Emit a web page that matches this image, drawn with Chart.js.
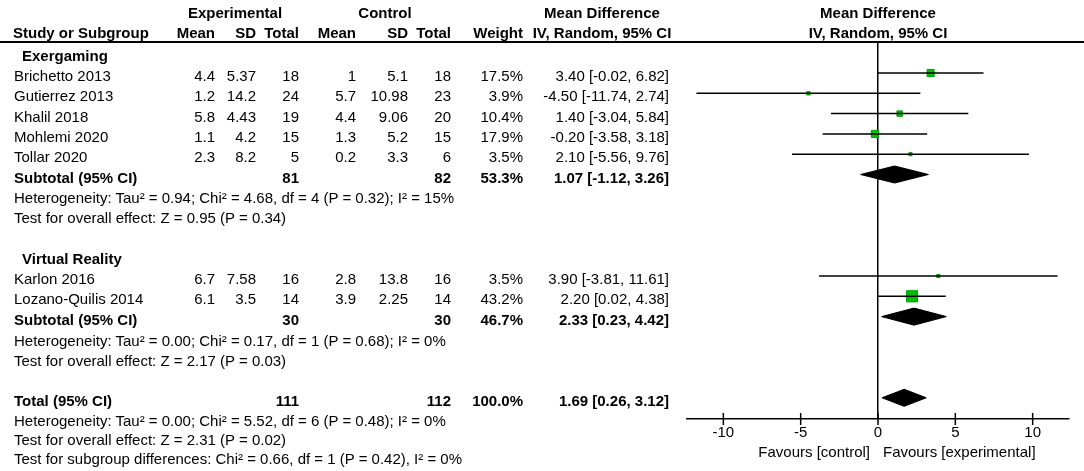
<!DOCTYPE html>
<html>
<head>
<meta charset="utf-8">
<script src="https://cdn.jsdelivr.net/npm/chart.js@4.4.1/dist/chart.umd.min.js"></script>
<style>
  html, body { margin: 0; padding: 0; background: #fff; }
  #wrap { position: relative; width: 1084px; height: 471px; overflow: hidden;
          font-family: "Liberation Sans", Arial, sans-serif; font-size: 15px; color: #000; }
  #wrap canvas { position: absolute; left: 0; top: 0; }
  .t { position: absolute; white-space: nowrap; line-height: 16px; }
  .b { font-weight: bold; }
  .rule { position: absolute; left: 0; top: 41px; width: 1084px; border-top: 2px solid #000; }
</style>
</head>
<body>
<div id="wrap">
  <canvas id="forest" width="1084" height="471"></canvas>
  <div class="rule"></div>
</div>
<script>
// study rows
const studies = ["Brichetto 2013", "Gutierrez 2013", "Khalil 2018", "Mohlemi 2020", "Tollar 2020", "Karlon 2016", "Lozano-Quilis 2014"];
const expMean = [4.4, 1.2, 5.8, 1.1, 2.3, 6.7, 6.1];
const expSD = [5.37, 14.2, 4.43, 4.2, 8.2, 7.58, 3.5];
const expN = [18, 24, 19, 15, 5, 16, 14];
const ctlMean = [1, 5.7, 4.4, 1.3, 0.2, 2.8, 3.9];
const ctlSD = [5.1, 10.98, 9.06, 5.2, 3.3, 13.8, 2.25];
const ctlN = [18, 23, 20, 15, 6, 16, 14];
const weights = [17.5, 3.9, 10.4, 17.9, 3.5, 3.5, 43.2];
const md = [3.40, -4.50, 1.40, -0.20, 2.10, 3.90, 2.20];
const mdLo = [-0.02, -11.74, -3.04, -3.58, -5.56, -3.81, 0.02];
const mdHi = [6.82, 2.74, 5.84, 3.18, 9.76, 11.61, 4.38];

// subgroups and total
const groups = ["Exergaming", "Virtual Reality"];
const pooledLabels = ["Subtotal (95% CI)", "Subtotal (95% CI)", "Total (95% CI)"];
const pooledExpN = [81, 30, 111];
const pooledCtlN = [82, 30, 112];
const pooledWeight = [53.3, 46.7, 100.0];
const pooledMD = [1.07, 2.33, 1.69];
const pooledLo = [-1.12, 0.23, 0.26];
const pooledHi = [3.26, 4.42, 3.12];
const groupNotes = [
  ["Heterogeneity: Tau\u00b2 = 0.94; Chi\u00b2 = 4.68, df = 4 (P = 0.32); I\u00b2 = 15%",
   "Test for overall effect: Z = 0.95 (P = 0.34)"],
  ["Heterogeneity: Tau\u00b2 = 0.00; Chi\u00b2 = 0.17, df = 1 (P = 0.68); I\u00b2 = 0%",
   "Test for overall effect: Z = 2.17 (P = 0.03)"],
  ["Heterogeneity: Tau\u00b2 = 0.00; Chi\u00b2 = 5.52, df = 6 (P = 0.48); I\u00b2 = 0%",
   "Test for overall effect: Z = 2.31 (P = 0.02)",
   "Test for subgroup differences: Chi\u00b2 = 0.66, df = 1 (P = 0.42), I\u00b2 = 0%"]
];

const xTicks = [-10, -5, 0, 5, 10];

// layout: which row each line sits on
const studyRow = [1, 2, 3, 4, 5, 11, 12];
const groupRow = [0, 10];
const pooledRow = [6, 13, 17];
const noteY = [[198, 218], [341, 361], [421, 440, 459]];
const rowY = (r) => 52.7 + r * 20.3;
const textY = (r) => rowY(r) + 3;

const wrap = document.getElementById("wrap");
function put(str, x, y, align, bold) {
  const d = document.createElement("div");
  d.className = "t" + (bold ? " b" : "");
  d.textContent = str;
  d.style.left = x + "px";
  d.style.top = (y - 8) + "px";
  if (align === "right") d.style.transform = "translateX(-100%)";
  if (align === "center") d.style.transform = "translateX(-50%)";
  wrap.appendChild(d);
}

const col = { name: 14, group: 22, eMean: 215, eSD: 256, eN: 299, cMean: 356, cSD: 408, cN: 451, w: 523, md: 669, mdHead: 602, plot: 878 };
const ci = (m, l, h) => m.toFixed(2) + " [" + l.toFixed(2) + ", " + h.toFixed(2) + "]";

// header
put("Experimental", 235, 13, "center", true);
put("Control", 385, 13, "center", true);
put("Mean Difference", col.mdHead, 13, "center", true);
put("Mean Difference", col.plot, 13, "center", true);
put("Study or Subgroup", col.name - 1, 33, "left", true);
put("Mean", col.eMean, 33, "right", true);
put("SD", col.eSD, 33, "right", true);
put("Total", col.eN, 33, "right", true);
put("Mean", col.cMean, 33, "right", true);
put("SD", col.cSD, 33, "right", true);
put("Total", col.cN, 33, "right", true);
put("Weight", col.w, 33, "right", true);
put("IV, Random, 95% CI", col.mdHead, 33, "center", true);
put("IV, Random, 95% CI", col.plot, 33, "center", true);

groups.forEach((g, i) => put(g, col.group, textY(groupRow[i]), "left", true));

studies.forEach((s, i) => {
  const y = textY(studyRow[i]);
  put(s, col.name, y, "left");
  put(String(expMean[i]), col.eMean, y, "right");
  put(String(expSD[i]), col.eSD, y, "right");
  put(String(expN[i]), col.eN, y, "right");
  put(String(ctlMean[i]), col.cMean, y, "right");
  put(String(ctlSD[i]), col.cSD, y, "right");
  put(String(ctlN[i]), col.cN, y, "right");
  put(weights[i].toFixed(1) + "%", col.w, y, "right");
  put(ci(md[i], mdLo[i], mdHi[i]), col.md, y, "right");
});

pooledLabels.forEach((p, i) => {
  const y = textY(pooledRow[i]);
  put(p, col.name, y, "left", true);
  put(String(pooledExpN[i]), col.eN, y, "right", true);
  put(String(pooledCtlN[i]), col.cN, y, "right", true);
  put(pooledWeight[i].toFixed(1) + "%", col.w, y, "right", true);
  put(ci(pooledMD[i], pooledLo[i], pooledHi[i]), col.md, y, "right", true);
  groupNotes[i].forEach((n, k) => put(n, col.name, noteY[i][k], "left"));
});

put("Favours [control]", 870, 452, "right");
put("Favours [experimental]", 883, 452, "left");

// chart datasets
const datasets = [];
studies.forEach((s, i) => {
  datasets.push({
    data: [{ x: mdLo[i], y: studyRow[i] }, { x: mdHi[i], y: studyRow[i] }],
    showLine: true, borderColor: "#000", borderWidth: 1.5, pointRadius: 0
  });
});
datasets.push({
  data: md.map((v, i) => ({ x: v, y: studyRow[i] })),
  showLine: false,
  pointStyle: "rect",
  pointRadius: weights.map((w) => 1.2 * Math.sqrt(w)),
  backgroundColor: "#00c000",
  borderColor: "#009c00",
  borderWidth: 1
});
pooledMD.forEach((m, i) => {
  const r = pooledRow[i];
  datasets.push({
    data: [
      { x: pooledLo[i], y: r }, { x: m, y: r - 0.42 },
      { x: pooledHi[i], y: r }, { x: m, y: r + 0.42 }, { x: pooledLo[i], y: r }
    ],
    showLine: true, fill: "shape", tension: 0,
    backgroundColor: "#000", borderColor: "#000", borderWidth: 1, pointRadius: 0
  });
});

const tickMarks = {
  id: "tickMarks",
  afterDraw(chart) {
    const s = chart.scales.x, ctx = chart.ctx, yb = chart.chartArea.bottom;
    ctx.save();
    ctx.strokeStyle = "#000";
    ctx.lineWidth = 1.5;
    s.ticks.forEach((t) => {
      const px = s.getPixelForValue(t.value);
      ctx.beginPath();
      ctx.moveTo(px, yb - 6);
      ctx.lineTo(px, yb + 6);
      ctx.stroke();
    });
    ctx.restore();
  }
};

new Chart(document.getElementById("forest"), {
  type: "scatter",
  data: { datasets },
  plugins: [tickMarks],
  options: {
    responsive: false,
    animation: false,
    events: [],
    layout: { padding: { left: 687, right: 15, top: 43, bottom: 30 } },
    plugins: { legend: { display: false }, tooltip: { enabled: false } },
    scales: {
      x: {
        type: "linear",
        min: -12.35,
        max: 12.35,
        afterBuildTicks: (s) => { s.ticks = xTicks.map((v) => ({ value: v })); },
        afterFit: (s) => { s.height = 22; },
        grid: {
          color: (c) => (c.tick && c.tick.value === 0 ? "#000" : "rgba(0,0,0,0)"),
          lineWidth: 1.5,
          drawTicks: false
        },
        border: { display: true, color: "#000", width: 1.5 },
        ticks: { padding: 5, color: "#000", font: { family: "Liberation Sans", size: 15 } }
      },
      y: { type: "linear", display: false, reverse: true, min: -0.478, max: 18.044 }
    }
  }
});
</script>
</body>
</html>
